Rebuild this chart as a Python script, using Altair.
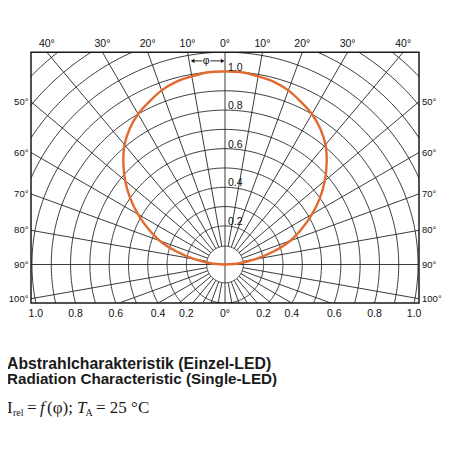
import numpy as np
import pandas as pd
import altair as alt

# ---- data ----
phi_deg = [0, 5, 10, 15, 20, 25, 30, 35, 40, 45, 50, 55, 60, 65, 70, 75, 80, 85, 90]
i_rel = [1.0, 1.0, 0.99, 0.98, 0.96, 0.93, 0.90, 0.86, 0.81, 0.745, 0.675, 0.60,
         0.52, 0.44, 0.36, 0.26, 0.16, 0.075, 0.0]

grid_radii = [0.095] + [round(0.1 * k, 1) for k in range(2, 16)]
grid_angles = list(range(0, 360, 10))
top_angles = [-40, -30, -20, -10, 0, 10, 20, 30, 40]
side_angles = [50, 60, 70, 80, 90, 100]
inner_labels = [0.2, 0.4, 0.6, 0.8, 1.0]
bottom_labels = [1.0, 0.8, 0.6, 0.4, 0.2]

BOX_X = 1.005
BOX_TOP = 1.1
BOX_BOTTOM = -0.2
FONT = "Liberation Sans"
SERIF = "Liberation Serif"
ORANGE = "#E36A2E"
GRID = "#262626"

xs = alt.Scale(domain=[-BOX_X, BOX_X], nice=False, zero=False)
ys = alt.Scale(domain=[BOX_BOTTOM, BOX_TOP], nice=False, zero=False)

# ---- grid circles ----
rows = []
th = np.deg2rad(np.arange(0, 361, 1.0))
for k, r in enumerate(grid_radii):
    for i, t in enumerate(th):
        rows.append({"id": f"c{k}", "i": i, "x": r * np.sin(t), "y": r * np.cos(t)})
circles = pd.DataFrame(rows)

# ---- radial lines ----
rows = []
for a in grid_angles:
    r0 = 0.0 if a % 90 == 0 else grid_radii[0]
    t = np.deg2rad(a)
    for i, r in enumerate([r0, 2.0]):
        rows.append({"id": f"a{a}", "i": i, "x": r * np.sin(t), "y": r * np.cos(t)})
radials = pd.DataFrame(rows)

# ---- characteristic curve (symmetric) ----
ang = [-a for a in phi_deg[::-1]] + phi_deg[1:]
val = i_rel[::-1] + i_rel[1:]
curve = pd.DataFrame({
    "phi": ang,
    "x": [v * np.sin(np.deg2rad(a)) for a, v in zip(ang, val)],
    "y": [v * np.cos(np.deg2rad(a)) for a, v in zip(ang, val)],
})

enc_line = dict(
    x=alt.X("x:Q", scale=xs, axis=None),
    y=alt.Y("y:Q", scale=ys, axis=None),
)

grid_c = alt.Chart(circles).mark_line(color=GRID, strokeWidth=0.9, clip=True).encode(
    detail="id:N", order="i:Q", **enc_line)
grid_r = alt.Chart(radials).mark_line(color=GRID, strokeWidth=0.9, clip=True).encode(
    detail="id:N", order="i:Q", **enc_line)
curve_l = alt.Chart(curve).mark_line(color=ORANGE, strokeWidth=2.4,
                                     interpolate="catmull-rom").encode(
    order="phi:Q", **enc_line)

box = alt.Chart(pd.DataFrame({"x": [-BOX_X], "x2": [BOX_X], "y": [BOX_BOTTOM], "y2": [BOX_TOP]})).mark_rect(
    fill=None, stroke="#1a1a1a", strokeWidth=1.5).encode(
    x=alt.X("x:Q", scale=xs, axis=None), x2="x2:Q",
    y=alt.Y("y:Q", scale=ys, axis=None), y2="y2:Q")

# ---- labels ----
top_df = pd.DataFrame({
    "x": [BOX_TOP * np.tan(np.deg2rad(a)) for a in top_angles],
    "y": [1.144] * len(top_angles),
    "t": [f"{abs(a)}°" for a in top_angles],
})
side_y = [BOX_X / np.tan(np.deg2rad(a)) for a in side_angles]
left_df = pd.DataFrame({"x": [-1.018] * len(side_angles), "y": side_y,
                        "t": [f"{a}°" for a in side_angles]})
right_df = pd.DataFrame({"x": [1.0207] * len(side_angles), "y": side_y,
                         "t": [f"{a}°" for a in side_angles]})
bx = [np.sqrt(r * r - BOX_BOTTOM ** 2) if r > 0.3 else r for r in bottom_labels]
bottom_df = pd.DataFrame({
    "x": [-v for v in bx] + [0.0] + bx[::-1],
    "y": [-0.257] * (2 * len(bx) + 1),
    "t": [f"{r:.1f}" for r in bottom_labels] + ["0°"] + [f"{r:.1f}" for r in bottom_labels[::-1]],
})
inner_df = pd.DataFrame({"x": [0.015] * len(inner_labels), "y": inner_labels,
                         "t": [f"{r:.1f}" for r in inner_labels]})

def txt(df, size=10.5, **kw):
    return alt.Chart(df).mark_text(font=FONT, fontSize=size, color="#111", **kw).encode(
        x=alt.X("x:Q", scale=xs, axis=None), y=alt.Y("y:Q", scale=ys, axis=None), text="t:N")

top_t = txt(top_df, align="center", baseline="middle")
left_t = txt(left_df, size=9.5, align="right", baseline="middle")
right_t = txt(right_df, size=9.5, align="left", baseline="middle")
bottom_t = txt(bottom_df, align="center", baseline="middle")
inner_t = txt(inner_df, align="left", baseline="alphabetic", dy=-1)

# ---- phi arrow ----
AY = 1.055
arrow_lines = pd.DataFrame({"id": ["a", "a", "b", "b"], "x": [-0.17, -0.117, -0.076, -0.012],
                            "y": [AY] * 4})
arrow_l = alt.Chart(arrow_lines).mark_line(color="#111", strokeWidth=0.9).encode(detail="id:N", **enc_line)
heads = pd.DataFrame({"x": [-0.168, -0.012], "y": [AY, AY], "s": ["triangle-left", "triangle-right"]})
arrow_h = alt.Chart(heads).mark_point(filled=True, color="#111", size=18, opacity=1).encode(
    shape=alt.Shape("s:N", scale=None), **enc_line)
phi_t = txt(pd.DataFrame({"x": [-0.097], "y": [AY], "t": ["φ"]}), align="center", baseline="middle")

# ---- caption (pixel positions relative to plot origin) ----
cap1 = alt.Chart(pd.DataFrame({"t": ["Abstrahlcharakteristik (Einzel-LED)"]})).mark_text(
    font=FONT, fontSize=15.8, fontWeight="bold", align="left", baseline="alphabetic", color="#1a1a1a").encode(
    x=alt.value(-24), y=alt.value(316.8), text="t:N")
cap2 = alt.Chart(pd.DataFrame({"t": ["Radiation Characteristic (Single-LED)"]})).mark_text(
    font=FONT, fontSize=15.2, fontWeight="bold", align="left", baseline="alphabetic", color="#1a1a1a").encode(
    x=alt.value(-24), y=alt.value(331.8), text="t:N")

pieces = [
    ("I", -24, 360.8, 17, "normal"),
    ("rel", -18, 363.3, 10, "normal"),
    ("=", -4, 360.8, 17, "normal"),
    ("f", 9, 360.8, 17, "italic"),
    ("(φ);", 16, 360.8, 17, "normal"),
    ("T", 46, 360.8, 17, "italic"),
    ("A", 54.5, 363.3, 10, "normal"),
    ("= 25 °C", 65, 360.8, 17, "normal"),
]
cap3 = []
for t, px, py, fs, st in pieces:
    cap3.append(alt.Chart(pd.DataFrame({"t": [t]})).mark_text(
        font=SERIF, fontSize=fs, fontStyle=st, align="left", baseline="alphabetic", color="#1a1a1a").encode(
        x=alt.value(px), y=alt.value(py), text="t:N"))

chart = alt.layer(
    grid_c, grid_r, curve_l, box, top_t, left_t, right_t, bottom_t, inner_t,
    arrow_l, arrow_h, phi_t, cap1, cap2, *cap3
).properties(
    width=388, height=250.9,
    padding={"left": 23, "top": 44.2, "right": 23, "bottom": 138.9},
    autosize=alt.AutoSizeParams(type="none"),
).configure_view(stroke=None)

chart.save("out.html", embed_options={"renderer": "svg", "actions": False})
